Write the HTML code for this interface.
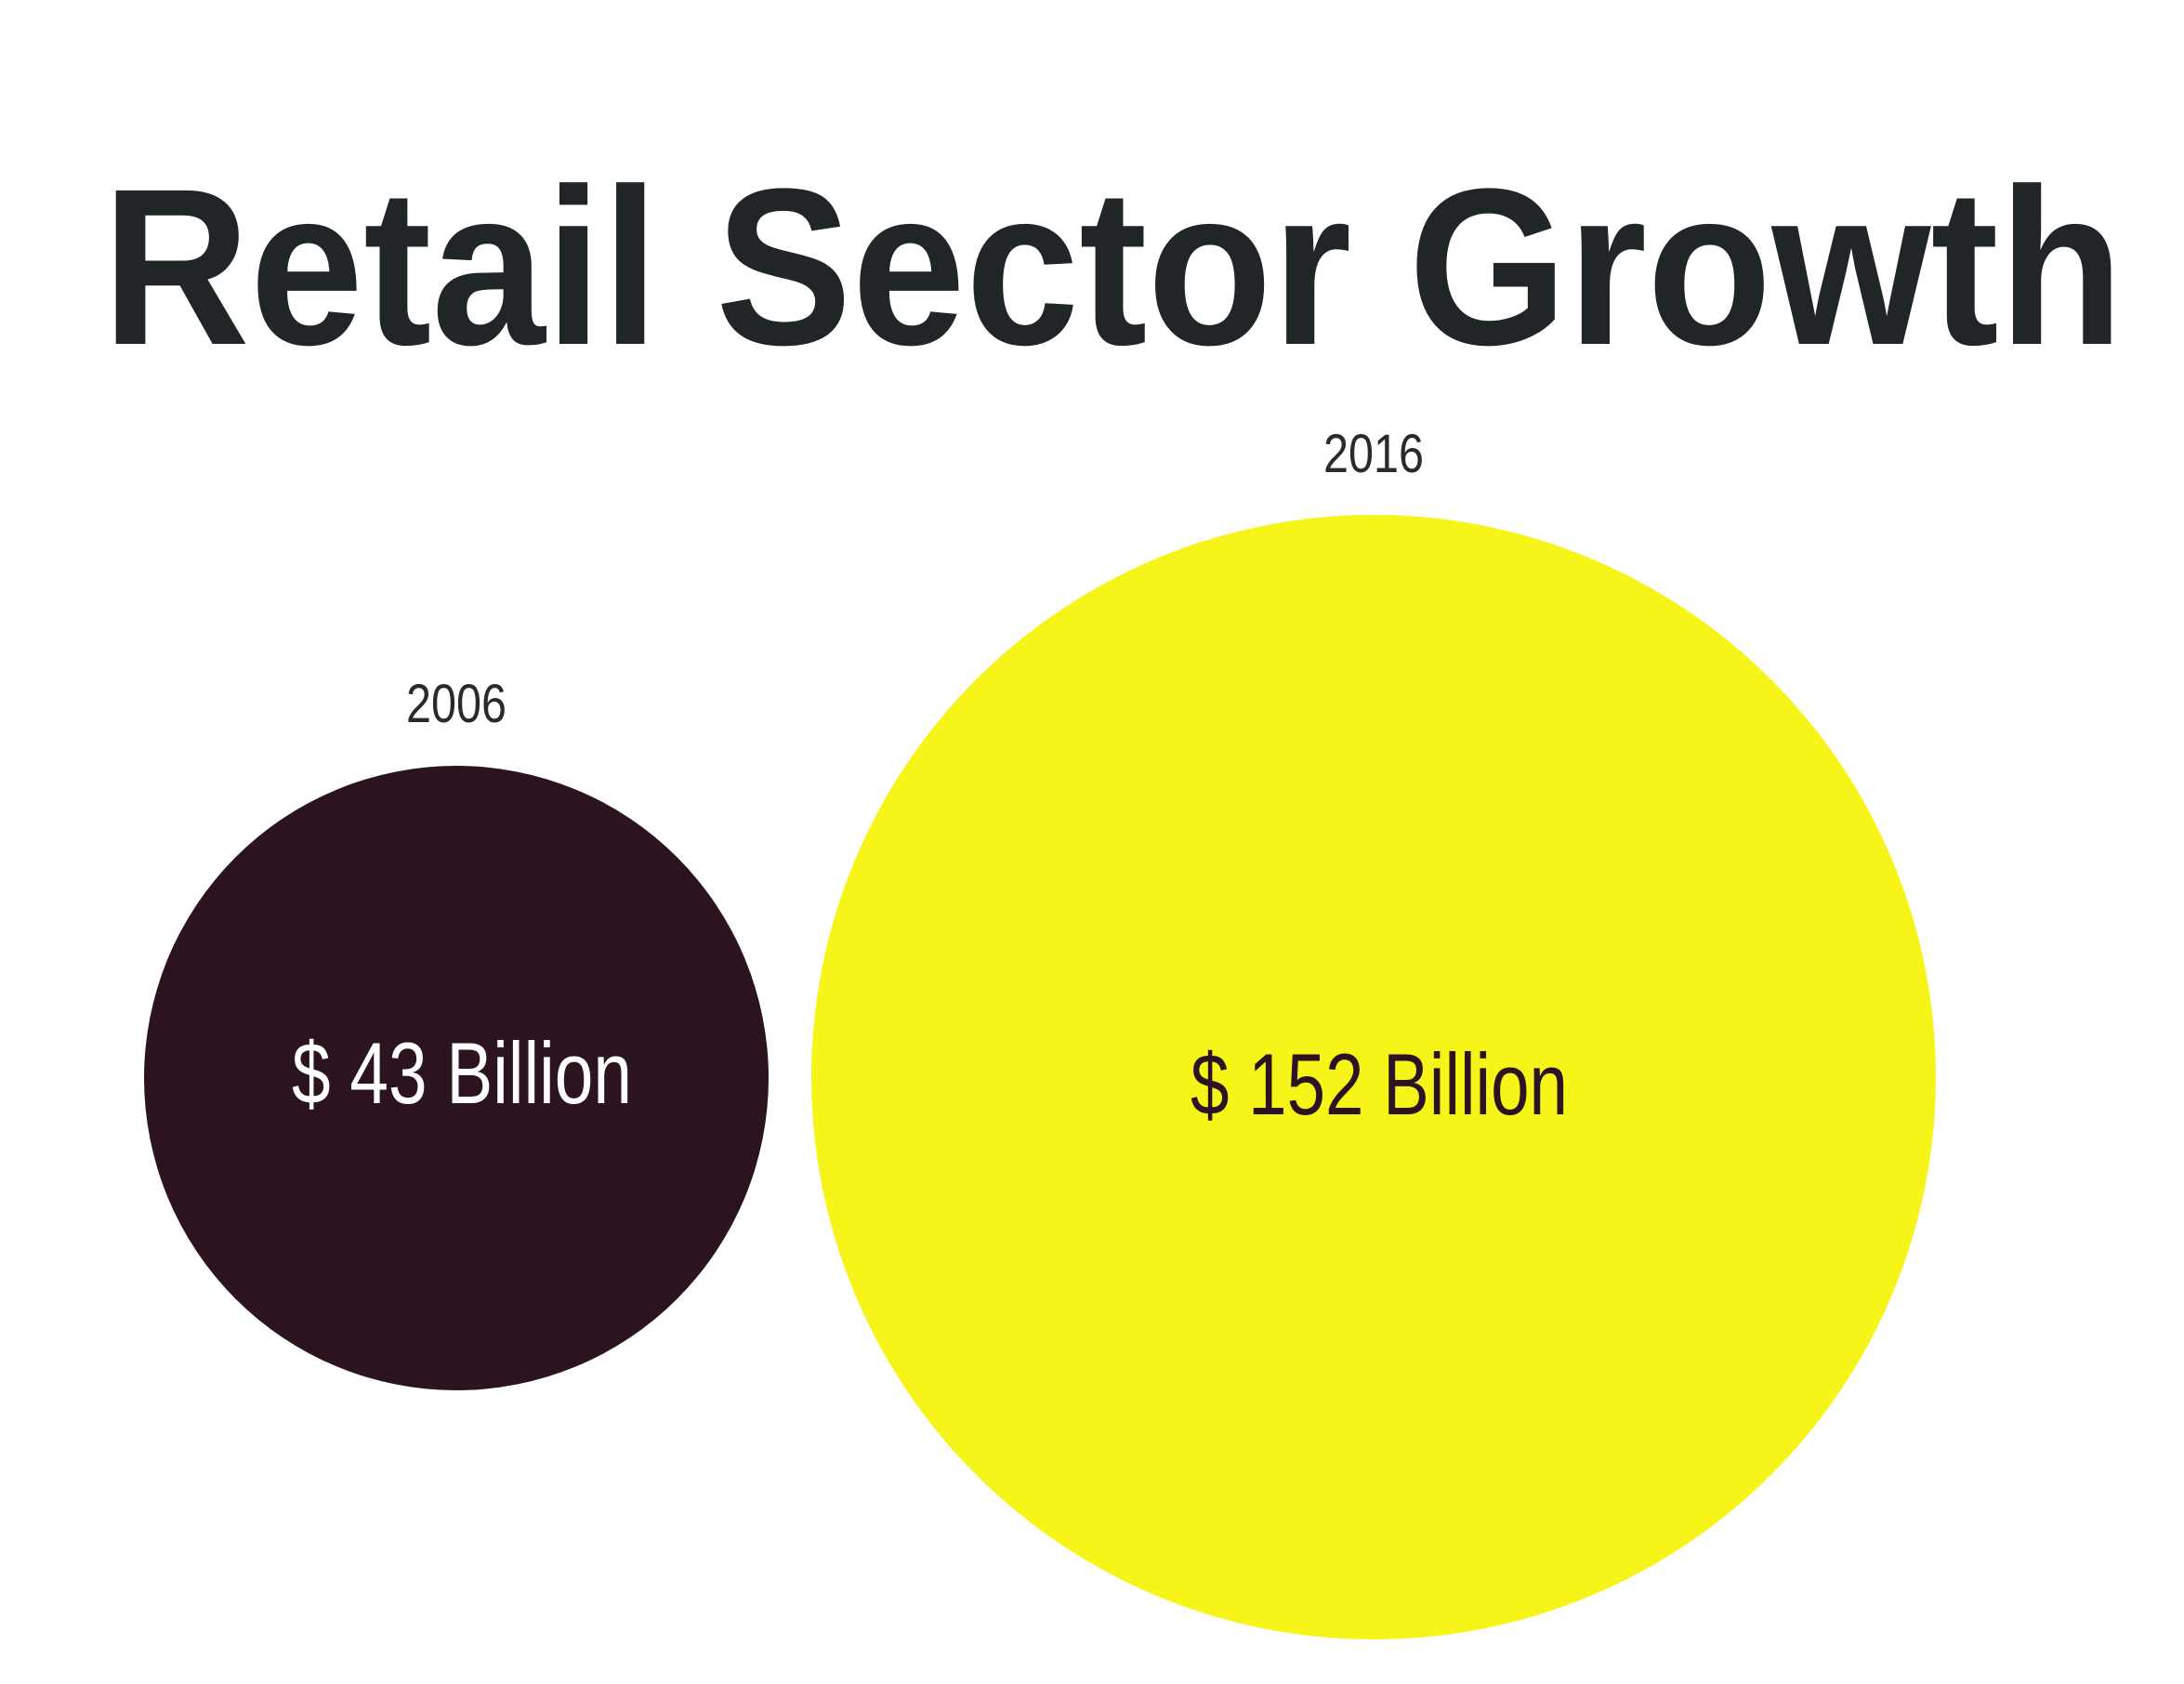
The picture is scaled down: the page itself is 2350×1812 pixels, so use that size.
<!DOCTYPE html>
<html><head><meta charset="utf-8"><style>html,body{margin:0;padding:0;background:#fff}svg{display:block}</style></head>
<body>
<svg width="2350" height="1812" viewBox="0 0 2350 1812" xmlns="http://www.w3.org/2000/svg">
<rect width="2350" height="1812" fill="#fff"/>
<text x="110" y="370" font-family="Liberation Sans, sans-serif" font-weight="bold" font-size="240" fill="#202628" textLength="2175" lengthAdjust="spacingAndGlyphs">Retail Sector Growth</text>
<text x="491" y="777" text-anchor="middle" font-family="Liberation Sans, sans-serif" font-size="58" fill="#2a2a2a" textLength="108" lengthAdjust="spacingAndGlyphs">2006</text>
<text x="1478" y="508" text-anchor="middle" font-family="Liberation Sans, sans-serif" font-size="58" fill="#2a2a2a" textLength="108" lengthAdjust="spacingAndGlyphs">2016</text>
<circle cx="491" cy="1160" r="336" fill="#2b141f"/>
<circle cx="1478" cy="1159" r="605" fill="#f7f41a"/>
<text x="314" y="1187" font-family="Liberation Sans, sans-serif" font-size="94" fill="#ffffff" textLength="366" lengthAdjust="spacingAndGlyphs">$ 43 Billion</text>
<text x="1281" y="1199" font-family="Liberation Sans, sans-serif" font-size="94" fill="#2b141f" textLength="406" lengthAdjust="spacingAndGlyphs">$ 152 Billion</text>
</svg>
</body></html>
